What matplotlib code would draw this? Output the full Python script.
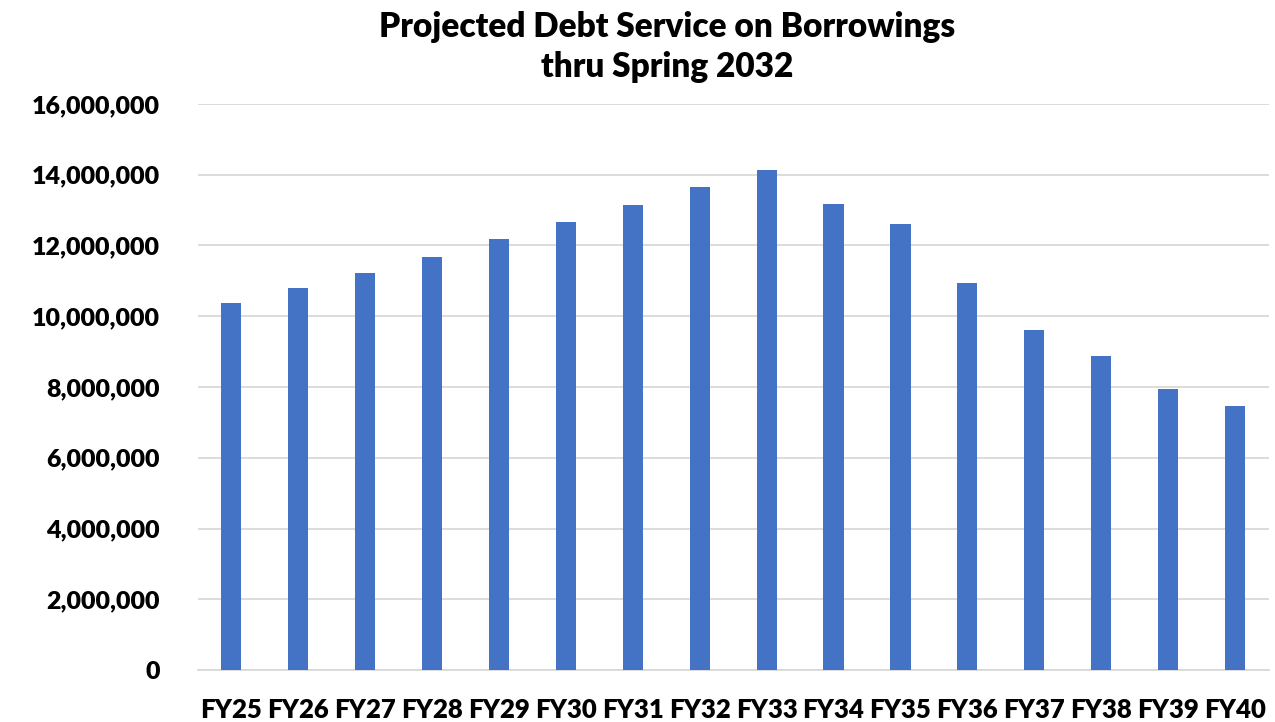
import numpy as np
import matplotlib.pyplot as plt
from matplotlib.ticker import FuncFormatter

years = ['FY25', 'FY26', 'FY27', 'FY28', 'FY29', 'FY30', 'FY31', 'FY32',
         'FY33', 'FY34', 'FY35', 'FY36', 'FY37', 'FY38', 'FY39', 'FY40']
debt_service = [10380000, 10810000, 11210000, 11670000, 12180000, 12660000,
                13140000, 13640000, 14130000, 13180000, 12620000, 10950000,
                9620000, 8890000, 7930000, 7450000]

plt.rcParams['font.family'] = ['Lato', 'DejaVu Sans']

fig = plt.figure(figsize=(12.75, 7.22), dpi=100)
ax = fig.add_axes([0.155, 0.072, 0.84, 0.784])

x = np.arange(len(years))
ax.bar(x, debt_service, width=0.3, color='#4472C4', zorder=3)

ax.set_xlim(-0.5, len(years) - 0.5)
ax.set_ylim(0, 16000000)
ax.set_yticks(np.arange(0, 16000001, 2000000))
ax.yaxis.set_major_formatter(FuncFormatter(lambda v, p: f'{int(v):,}'))
ax.set_xticks(x)
ax.set_xticklabels(years)

ax.grid(axis='y', color='#D9D9D9', linewidth=1.3, zorder=0)
for s in ['top', 'right', 'left']:
    ax.spines[s].set_visible(False)
ax.spines['bottom'].set_color('#D9D9D9')
ax.spines['bottom'].set_linewidth(1.3)
ax.tick_params(axis='y', length=0, labelsize=18, pad=27)
ax.tick_params(axis='x', length=0, labelsize=18.5, pad=20)
for lbl in ax.get_xticklabels() + ax.get_yticklabels():
    lbl.set_fontweight('heavy')

fig.text(0.523, 0.935, 'Projected Debt Service on Borrowings\nthru Spring 2032',
         ha='center', va='center', fontsize=24, fontweight='heavy',
         linespacing=1.3)

fig.savefig('out.png', dpi=100)
